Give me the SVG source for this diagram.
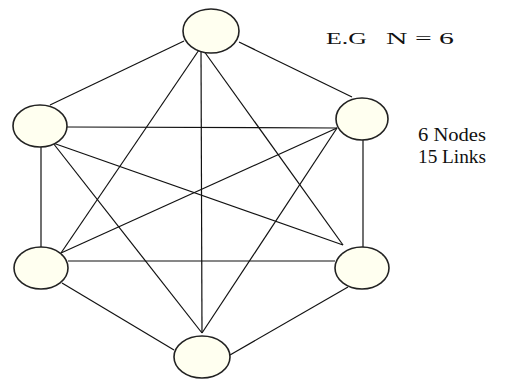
<svg xmlns="http://www.w3.org/2000/svg" width="513" height="379" viewBox="0 0 513 379">
<style>
.node{fill:#fffff0;stroke:#222;stroke-width:1.6}
.link{stroke:#111;stroke-width:1.2;fill:none}
.lbl{font-family:"Liberation Serif","Times New Roman",serif;fill:#111}
</style>
<rect width="513" height="379" fill="#fff"/>
<g id="connectors">
<line class="link" x1="184" y1="41" x2="50" y2="105"/>
<line class="link" x1="239" y1="42" x2="352" y2="97"/>
<line class="link" x1="201" y1="47" x2="202" y2="333"/>
<line class="link" x1="201" y1="47" x2="61" y2="253"/>
<line class="link" x1="201" y1="47" x2="343" y2="245"/>
<line class="link" x1="67" y1="127" x2="337" y2="128"/>
<line class="link" x1="41" y1="147" x2="41" y2="247"/>
<line class="link" x1="53" y1="143" x2="343" y2="245"/>
<line class="link" x1="53" y1="143" x2="202" y2="333"/>
<line class="link" x1="337" y1="128" x2="61" y2="253"/>
<line class="link" x1="363" y1="140" x2="363" y2="247"/>
<line class="link" x1="337" y1="128" x2="202" y2="333"/>
<line class="link" x1="68" y1="261" x2="335" y2="261"/>
<line class="link" x1="62" y1="283" x2="174" y2="350"/>
<line class="link" x1="348" y1="287" x2="230" y2="355"/>
</g>
<g id="n1"><ellipse class="node" cx="211" cy="31" rx="28" ry="22"/></g>
<g id="n2"><ellipse class="node" cx="362" cy="119" rx="26" ry="21"/></g>
<g id="n3"><ellipse class="node" cx="362" cy="268" rx="27" ry="21"/></g>
<g id="n4"><ellipse class="node" cx="202" cy="357" rx="28" ry="21"/></g>
<g id="n5"><ellipse class="node" cx="41" cy="268" rx="27" ry="21"/></g>
<g id="n6"><ellipse class="node" cx="40" cy="126" rx="27" ry="21"/></g>
<g id="labels">
<text class="lbl" x="326" y="44" font-size="17" textLength="41" lengthAdjust="spacingAndGlyphs">E.G</text>
<text class="lbl" x="386" y="44" font-size="17" textLength="68" lengthAdjust="spacingAndGlyphs">N = 6</text>
<text class="lbl" x="418" y="141" font-size="19" textLength="68" lengthAdjust="spacingAndGlyphs">6 Nodes</text>
<text class="lbl" x="418" y="163" font-size="19" textLength="68" lengthAdjust="spacingAndGlyphs">15 Links</text>
</g>
</svg>
